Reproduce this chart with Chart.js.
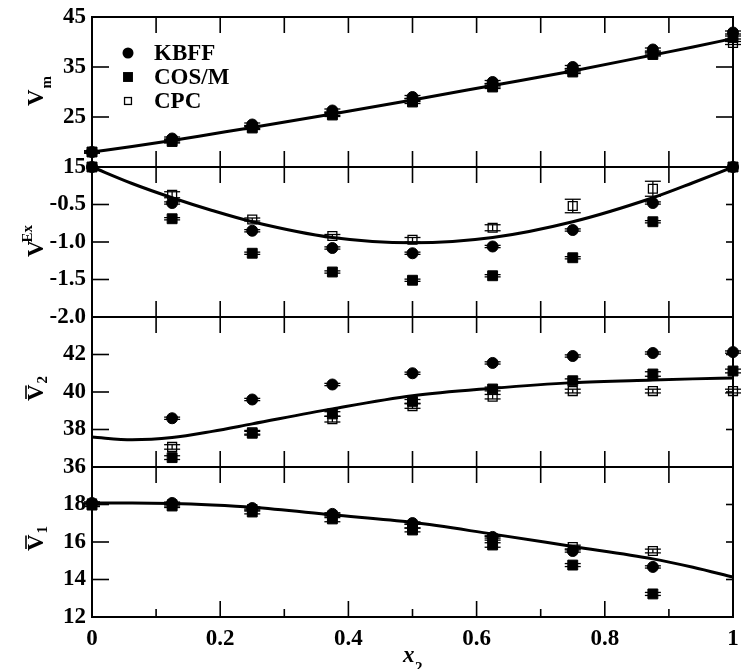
<!DOCTYPE html>
<html>
<head>
<meta charset="utf-8">
<script src="https://cdn.jsdelivr.net/npm/chart.js@4.4.0/dist/chart.umd.min.js"></script>
<style>
  html, body { margin: 0; padding: 0; background: #fff; }
  #wrap { width: 741px; height: 669px; position: relative; }
</style>
</head>
<body>
<div id="wrap"><canvas id="chart" width="741" height="669"></canvas></div>
<script>
// mole fractions x2 where the simulations were run
const xs = [0, 0.125, 0.25, 0.375, 0.5, 0.625, 0.75, 0.875, 1];
// x positions of the experimental fit curves
const fitX = [0, 0.0625, 0.125, 0.1875, 0.25, 0.375, 0.5, 0.625, 0.75, 0.875, 0.9375, 1];

// V_m
const vmKbff = [18.0, 20.7, 23.5, 26.3, 29.0, 32.0, 35.0, 38.5, 41.9];
const vmCosm = [18.0, 20.1, 22.8, 25.4, 28.0, 31.0, 34.0, 37.5, 40.9];
const vmCpc  = [18.0, 20.3, 23.0, 25.6, 28.4, 31.3, 34.3, 37.7, 39.8];
const vmErrKbff = [0.2, 0.3, 0.3, 0.3, 0.3, 0.3, 0.3, 0.3, 0.3];
const vmErrCosm = [0.2, 0.3, 0.3, 0.3, 0.3, 0.3, 0.3, 0.3, 0.3];
const vmErrCpc  = [0.2, 0.3, 0.3, 0.3, 0.3, 0.3, 0.3, 0.3, 0.3];
const vmFit = [18.0, 19.1, 20.3, 21.6, 22.9, 25.6, 28.4, 31.3, 34.2, 37.4, 39.0, 40.7];

// V^Ex
const exKbff = [0, -0.48, -0.85, -1.08, -1.15, -1.06, -0.84, -0.48, 0];
const exCosm = [0, -0.69, -1.15, -1.40, -1.51, -1.45, -1.21, -0.73, 0];
const exCpc  = [0, -0.37, -0.70, -0.92, -0.97, -0.81, -0.52, -0.29, 0];
const exErrKbff = [0, 0.015, 0.015, 0.015, 0.015, 0.015, 0.015, 0.015, 0];
const exErrCosm = [0, 0.015, 0.015, 0.015, 0.015, 0.015, 0.015, 0.015, 0];
const exErrCpc  = [0, 0.04, 0.02, 0.02, 0.03, 0.04, 0.09, 0.10, 0];
const exFit = [0, -0.22, -0.41, -0.58, -0.73, -0.94, -1.01, -0.94, -0.73, -0.41, -0.21, 0];

// partial molar volume of component 2
const v2Kbff = [null, 38.6, 39.6, 40.4, 41.0, 41.55, 41.92, 42.08, 42.13];
const v2Cosm = [null, 36.5, 37.8, 38.83, 39.5, 40.16, 40.6, 40.96, 41.12];
const v2Cpc  = [null, 37.07, 37.85, 38.55, 39.25, 39.75, 40.05, 40.05, 40.05];
const v2ErrKbff = [0, 0.06, 0.06, 0.06, 0.06, 0.06, 0.06, 0.06, 0.06];
const v2ErrCosm = [0, 0.1, 0.1, 0.12, 0.1, 0.1, 0.1, 0.12, 0.1];
const v2ErrCpc  = [0, 0.12, 0.1, 0.15, 0.12, 0.12, 0.1, 0.1, 0.1];
const v2Fit = [37.6, 37.45, 37.57, 37.9, 38.3, 39.1, 39.8, 40.2, 40.5, 40.64, 40.7, 40.75];

// partial molar volume of component 1
const v1Kbff = [18.08, 18.08, 17.81, 17.5, 17.01, 16.27, 15.52, 14.67, null];
const v1Cosm = [17.97, 17.92, 17.6, 17.23, 16.64, 15.84, 14.77, 13.23, null];
const v1Cpc  = [18.05, 18.0, 17.75, 17.4, 16.85, 16.2, 15.73, 15.52, null];
const v1ErrKbff = [0.05, 0.05, 0.05, 0.06, 0.06, 0.06, 0.06, 0.06, 0];
const v1ErrCosm = [0.08, 0.08, 0.1, 0.15, 0.1, 0.12, 0.08, 0.08, 0];
const v1ErrCpc  = [0.08, 0.08, 0.1, 0.1, 0.1, 0.1, 0.1, 0.1, 0];
const v1Fit = [18.08, 18.08, 18.05, 17.97, 17.85, 17.45, 17.05, 16.42, 15.76, 15.1, 14.65, 14.13];

// tick labels
const xTickLabels = [0, 0.2, 0.4, 0.6, 0.8, 1];
const vmTickLabels = [15, 25, 35, 45];
const exTickLabels = [-2.0, -1.5, -1.0, -0.5];
const v2TickLabels = [36, 38, 40, 42];
const v1TickLabels = [12, 14, 16, 18];

const seriesNames = ['KBFF', 'COS/M', 'CPC'];

const SERIF = '"Liberation Serif", "Times New Roman", serif';
const BLACK = '#000';

const styles = [
  { pointStyle: 'circle', pointRadius: 5.5, pointBackgroundColor: BLACK, pointBorderColor: BLACK, pointBorderWidth: 1 },
  { pointStyle: 'rect', pointRadius: 7, pointBackgroundColor: BLACK, pointBorderColor: BLACK, pointBorderWidth: 1 },
  { pointStyle: 'rect', pointRadius: 6.3, pointBackgroundColor: 'rgba(0,0,0,0)', pointBorderColor: BLACK, pointBorderWidth: 1.3 }
];

const panels = [
  { id: 'yVm', min: 15, max: 45, step: 5, labels: vmTickLabels, fmt: v => String(v), rightTick: 17,
    fit: vmFit, sets: [[vmKbff, vmErrKbff], [vmCosm, vmErrCosm], [vmCpc, vmErrCpc]] },
  { id: 'yEx', min: -2, max: 0, step: 0.25, labels: exTickLabels, fmt: v => v.toFixed(1), rightTick: 7,
    fit: exFit, sets: [[exKbff, exErrKbff], [exCosm, exErrCosm], [exCpc, exErrCpc]] },
  { id: 'yV2', min: 36, max: 44, step: 1, labels: v2TickLabels, fmt: v => String(v), rightTick: 7,
    fit: v2Fit, sets: [[v2Kbff, v2ErrKbff], [v2Cosm, v2ErrCosm], [v2Cpc, v2ErrCpc]] },
  { id: 'yV1', min: 12, max: 20, step: 1, labels: v1TickLabels, fmt: v => String(v), rightTick: 7,
    fit: v1Fit, sets: [[v1Kbff, v1ErrKbff], [v1Cosm, v1ErrCosm], [v1Cpc, v1ErrCpc]] }
];

function inList(list, v) {
  return list.some(l => Math.abs(l - v) < 1e-9);
}

const datasets = [];
panels.forEach(p => {
  datasets.push({
    yAxisID: p.id,
    data: fitX.map((x, i) => ({ x: x, y: p.fit[i] })),
    showLine: true,
    pointRadius: 0,
    borderColor: BLACK,
    borderWidth: 3,
    cubicInterpolationMode: 'monotone',
    fill: false,
    clip: false
  });
  p.sets.forEach((s, k) => {
    const data = [];
    xs.forEach((x, i) => {
      if (s[0][i] != null) data.push({ x: x, y: s[0][i], e: s[1][i] });
    });
    datasets.push(Object.assign({
      yAxisID: p.id,
      data: data,
      showLine: false,
      clip: false,
      errorBars: true
    }, styles[k]));
  });
});

const scales = {
  x: {
    type: 'linear',
    position: 'bottom',
    min: 0,
    max: 1,
    grid: { display: false, drawTicks: false },
    border: { display: false },
    ticks: {
      stepSize: 0.2,
      autoSkip: false,
      maxRotation: 0,
      padding: 8,
      color: BLACK,
      font: { family: SERIF, size: 23, weight: 'bold' },
      callback: v => inList(xTickLabels, v) ? String(Number(v.toFixed(1))) : null
    },
    afterFit: s => {
      s.height = 52;
      s.paddingLeft = 0;
      s.paddingRight = 0;
    }
  }
};
panels.forEach((p, k) => {
  scales[p.id] = {
    type: 'linear',
    position: 'left',
    stack: 'panels',
    stackWeight: 1,
    weight: 4 - k,
    min: p.min,
    max: p.max,
    grid: { display: false, drawTicks: false },
    border: { display: false },
    ticks: {
      stepSize: p.step,
      autoSkip: false,
      padding: 6,
      color: BLACK,
      font: { family: SERIF, size: 23, weight: 'bold' },
      callback: v => inList(p.labels, v) ? p.fmt(v) : null
    },
    afterFit: s => {
      s.width = 92;
      s.paddingTop = 0;
      s.paddingBottom = 0;
    }
  };
});

function seg(ctx, x1, y1, x2, y2) {
  ctx.beginPath();
  ctx.moveTo(x1, y1);
  ctx.lineTo(x2, y2);
  ctx.stroke();
}

function drawMarker(ctx, k, x, y) {
  const st = styles[k];
  ctx.beginPath();
  if (st.pointStyle === 'circle') {
    ctx.arc(x, y, st.pointRadius, 0, Math.PI * 2);
    ctx.fill();
  } else {
    const h = st.pointRadius * Math.SQRT1_2;
    if (k === 1) {
      ctx.fillRect(x - h, y - h, 2 * h, 2 * h);
    } else {
      ctx.lineWidth = 1.3;
      ctx.strokeRect(x - h + 1, y - h + 1, 2 * h - 2, 2 * h - 2);
    }
  }
}

const framePlugin = {
  id: 'frame',
  afterDatasetsDraw(chart) {
    const ctx = chart.ctx;
    const xsc = chart.scales.x;
    ctx.save();
    ctx.strokeStyle = BLACK;
    ctx.lineWidth = 1.3;
    chart.data.datasets.forEach(ds => {
      if (!ds.errorBars) return;
      const ysc = chart.scales[ds.yAxisID];
      ds.data.forEach(p => {
        if (!p.e) return;
        const px = xsc.getPixelForValue(p.x);
        const top = ysc.getPixelForValue(p.y + p.e);
        const bot = ysc.getPixelForValue(p.y - p.e);
        seg(ctx, px, top, px, bot);
        seg(ctx, px - 8, top, px + 8, top);
        seg(ctx, px - 8, bot, px + 8, bot);
      });
    });
    ctx.restore();
  },
  afterDraw(chart) {
    const ctx = chart.ctx;
    const ca = chart.chartArea;
    const xsc = chart.scales.x;
    ctx.save();
    ctx.strokeStyle = BLACK;
    ctx.fillStyle = BLACK;
    ctx.lineWidth = 2;
    ctx.strokeRect(ca.left, ca.top, ca.right - ca.left, ca.bottom - ca.top);

    panels.forEach((p, k) => {
      const sc = chart.scales[p.id];
      ctx.lineWidth = 2;
      seg(ctx, ca.left, sc.bottom, ca.right, sc.bottom);
      ctx.lineWidth = 1.6;
      sc.ticks.forEach(t => {
        const y = sc.getPixelForValue(t.value);
        const len = inList(p.labels, t.value) ? 17 : 8;
        seg(ctx, ca.left, y, ca.left + len, y);
        seg(ctx, ca.right - p.rightTick, y, ca.right, y);
      });
      for (let i = 1; i < 10; i++) {
        const x = xsc.getPixelForValue(i / 10);
        seg(ctx, x, sc.top, x, sc.top + 16);
        const lb = (k === panels.length - 1 && i % 2 === 1) ? 8 : 16;
        seg(ctx, x, sc.bottom, x, sc.bottom - lb);
      }
    });

    // y axis titles (rotated)
    const titles = [
      { yStart: 106, sub: 'm' },
      { yStart: 257, sup: 'Ex' },
      { yStart: 401, sub: '2', bar: true },
      { yStart: 551, sub: '1', bar: true }
    ];
    titles.forEach(t => {
      ctx.save();
      ctx.translate(43, t.yStart);
      ctx.rotate(-Math.PI / 2);
      ctx.textAlign = 'left';
      ctx.textBaseline = 'alphabetic';
      ctx.font = 'bold 23px ' + SERIF;
      ctx.fillText('V', 0, 0);
      const w = ctx.measureText('V').width;
      if (t.bar) {
        ctx.lineWidth = 1.6;
        seg(ctx, 2, -17, w - 1, -17);
      }
      if (t.sub) {
        ctx.font = 'bold 15px ' + SERIF;
        ctx.fillText(t.sub, w + 1, t.sub === 'm' ? 8 : 4);
      }
      if (t.sup) {
        ctx.font = 'bold 15px ' + SERIF;
        ctx.fillText(t.sup, w - 2, -11);
      }
      ctx.restore();
    });

    // x axis title
    ctx.textAlign = 'left';
    ctx.textBaseline = 'alphabetic';
    ctx.font = 'italic bold 23px ' + SERIF;
    ctx.fillText('x', 403, 662);
    ctx.font = 'bold 15px ' + SERIF;
    ctx.fillText('2', 415, 672);

    // legend
    const legY = [53, 77, 101];
    ctx.font = 'bold 23px ' + SERIF;
    seriesNames.forEach((name, k) => {
      ctx.fillStyle = BLACK;
      ctx.strokeStyle = BLACK;
      drawMarker(ctx, k, 128, legY[k]);
      ctx.fillText(name, 154, legY[k] + 7);
    });
    ctx.restore();
  }
};

Chart.defaults.font.family = SERIF;

new Chart(document.getElementById('chart').getContext('2d'), {
  type: 'scatter',
  data: { datasets: datasets },
  options: {
    responsive: false,
    animation: false,
    devicePixelRatio: 1,
    layout: { padding: { top: 17, right: 7, left: 0, bottom: 0 } },
    scales: scales,
    plugins: {
      legend: { display: false },
      tooltip: { enabled: false }
    }
  },
  plugins: [framePlugin]
});
</script>
</body>
</html>
